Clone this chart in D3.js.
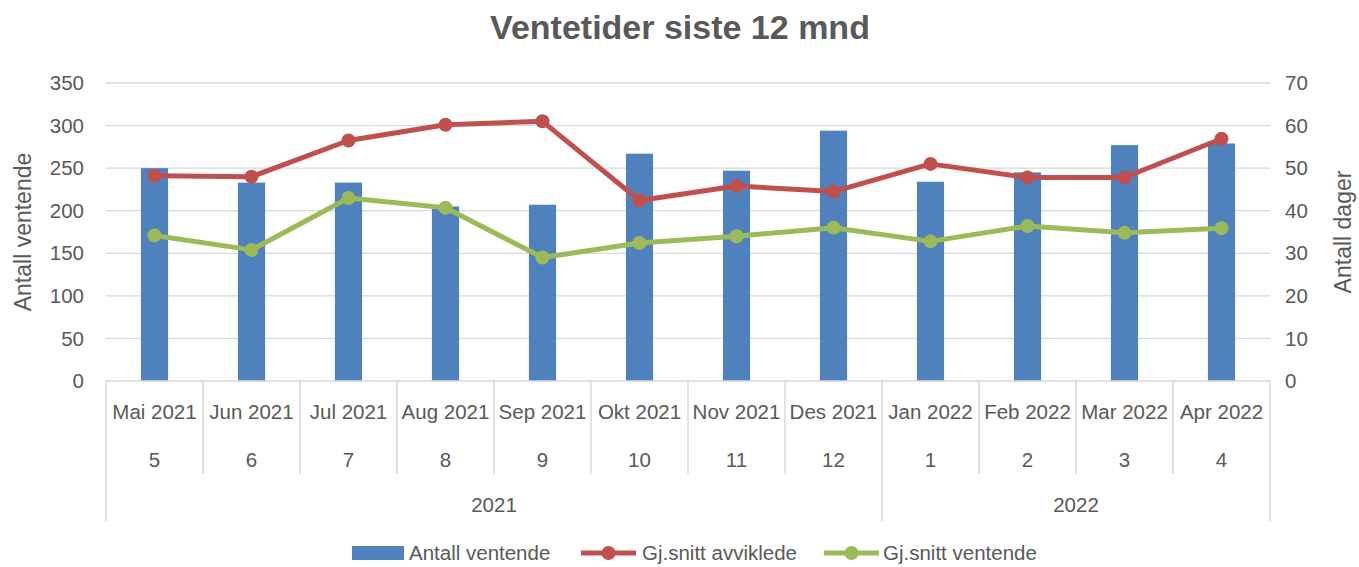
<!DOCTYPE html>
<html>
<head>
<meta charset="utf-8">
<script src="https://cdn.jsdelivr.net/npm/d3@7"></script>
<style>
  body { margin: 0; background: #fff; }
  text { font-family: 'Liberation Sans', Arial, sans-serif; fill: #595959; }
</style>
</head>
<body>
<div id="chart"></div>
<script>
const months = ['Mai 2021', 'Jun 2021', 'Jul 2021', 'Aug 2021', 'Sep 2021', 'Okt 2021',
  'Nov 2021', 'Des 2021', 'Jan 2022', 'Feb 2022', 'Mar 2022', 'Apr 2022']
const monthNums = ['5', '6', '7', '8', '9', '10', '11', '12', '1', '2', '3', '4']
const years = [{ year: '2021', from: 0, to: 8 }, { year: '2022', from: 8, to: 12 }]
const antallVentende = [250, 233, 233, 205, 207, 267, 247, 294, 234, 245, 277, 279]
const snittAvviklede = [48.2, 48.0, 56.5, 60.2, 61.0, 42.4, 45.8, 44.5, 51.0, 47.8, 47.8, 56.9]
const snittVentende = [34.2, 30.8, 43.0, 40.7, 29.0, 32.4, 34.0, 36.0, 32.8, 36.4, 34.8, 35.9]
const leftTicks = [0, 50, 100, 150, 200, 250, 300, 350]
const rightTicks = [0, 10, 20, 30, 40, 50, 60, 70]

const width = 1359
const height = 567
const margin = { top: 83, left: 106, right: 89, bottom: 186 }
const plotW = width - margin.left - margin.right
const plotH = height - margin.top - margin.bottom

const blue = '#4f81bd'
const red = '#c0504d'
const green = '#9bbb59'
const grid = '#d9d9d9'
const fs = 20.5

const svg = d3
  .select('#chart')
  .append('svg')
  .attr('width', width)
  .attr('height', height)

const g = svg
  .append('g')
  .attr('transform', 'translate(' + margin.left + ',' + margin.top + ')')

// scales
const x = d3.scaleBand().domain(d3.range(months.length)).range([0, plotW])
const yLeft = d3.scaleLinear().domain([0, 350]).range([plotH, 0])
const yRight = d3.scaleLinear().domain([0, 70]).range([plotH, 0])

// title
svg
  .append('text')
  .attr('x', 680)
  .attr('y', 39)
  .attr('text-anchor', 'middle')
  .attr('font-size', 34)
  .attr('font-weight', 'bold')
  .text('Ventetider siste 12 mnd')

// gridlines
g.selectAll('.grid')
  .data(leftTicks.slice(1))
  .enter()
  .append('line')
  .attr('class', 'grid')
  .attr('x1', 0)
  .attr('x2', plotW)
  .attr('y1', d => yLeft(d))
  .attr('y2', d => yLeft(d))
  .attr('stroke', grid)
  .attr('stroke-width', 1.3)

// left axis labels
g.selectAll('.ltick')
  .data(leftTicks)
  .enter()
  .append('text')
  .attr('class', 'ltick')
  .attr('x', -22)
  .attr('y', d => yLeft(d))
  .attr('dy', '0.35em')
  .attr('text-anchor', 'end')
  .attr('font-size', fs)
  .text(d => d)

// right axis labels
g.selectAll('.rtick')
  .data(rightTicks)
  .enter()
  .append('text')
  .attr('class', 'rtick')
  .attr('x', plotW + 15)
  .attr('y', d => yRight(d))
  .attr('dy', '0.35em')
  .attr('font-size', fs)
  .text(d => d)

// axis titles
svg
  .append('text')
  .attr('transform', 'translate(31,' + (margin.top + plotH / 2) + ') rotate(-90)')
  .attr('text-anchor', 'middle')
  .attr('font-size', 23)
  .text('Antall ventende')

svg
  .append('text')
  .attr('transform', 'translate(1351,' + (margin.top + plotH / 2) + ') rotate(-90)')
  .attr('text-anchor', 'middle')
  .attr('font-size', 23)
  .text('Antall dager')

// bars
const barW = x.bandwidth() * 0.28
g.selectAll('.bar')
  .data(antallVentende)
  .enter()
  .append('rect')
  .attr('class', 'bar')
  .attr('x', (d, i) => x(i) + x.bandwidth() / 2 - barW / 2)
  .attr('y', d => yLeft(d))
  .attr('width', barW)
  .attr('height', d => plotH - yLeft(d))
  .attr('fill', blue)

// category axis
g.append('line')
  .attr('x1', 0)
  .attr('x2', plotW)
  .attr('y1', plotH)
  .attr('y2', plotH)
  .attr('stroke', grid)
  .attr('stroke-width', 1.5)

const yearBounds = years.map(d => d.from).concat([months.length])
g.selectAll('.sep')
  .data(d3.range(months.length + 1))
  .enter()
  .append('line')
  .attr('class', 'sep')
  .attr('x1', i => (i < months.length ? x(i) : plotW))
  .attr('x2', i => (i < months.length ? x(i) : plotW))
  .attr('y1', plotH)
  .attr('y2', i => (yearBounds.includes(i) ? plotH + 140 : plotH + 93))
  .attr('stroke', grid)
  .attr('stroke-width', 1.5)

g.selectAll('.month')
  .data(months)
  .enter()
  .append('text')
  .attr('class', 'month')
  .attr('x', (d, i) => x(i) + x.bandwidth() / 2)
  .attr('y', plotH + 31)
  .attr('dy', '0.35em')
  .attr('text-anchor', 'middle')
  .attr('font-size', fs)
  .text(d => d)

g.selectAll('.mnum')
  .data(monthNums)
  .enter()
  .append('text')
  .attr('class', 'mnum')
  .attr('x', (d, i) => x(i) + x.bandwidth() / 2)
  .attr('y', plotH + 79)
  .attr('dy', '0.35em')
  .attr('text-anchor', 'middle')
  .attr('font-size', fs)
  .text(d => d)

g.selectAll('.year')
  .data(years)
  .enter()
  .append('text')
  .attr('class', 'year')
  .attr('x', d => (x(d.from) + (d.to < months.length ? x(d.to) : plotW)) / 2)
  .attr('y', plotH + 124)
  .attr('dy', '0.35em')
  .attr('text-anchor', 'middle')
  .attr('font-size', fs)
  .text(d => d.year)

// lines
const line = d3
  .line()
  .x((d, i) => x(i) + x.bandwidth() / 2)
  .y(d => yRight(d))

const series = [
  { name: 'Gj.snitt avviklede', values: snittAvviklede, color: red },
  { name: 'Gj.snitt ventende', values: snittVentende, color: green }
]

series.forEach(s => {
  g.append('path')
    .datum(s.values)
    .attr('d', line)
    .attr('fill', 'none')
    .attr('stroke', s.color)
    .attr('stroke-width', 5)
    .attr('stroke-linejoin', 'round')

  g.selectAll(null)
    .data(s.values)
    .enter()
    .append('circle')
    .attr('cx', (d, i) => x(i) + x.bandwidth() / 2)
    .attr('cy', d => yRight(d))
    .attr('r', 7)
    .attr('fill', s.color)
})

// legend
const legend = svg.append('g').attr('transform', 'translate(0,553)')

legend
  .append('rect')
  .attr('x', 352)
  .attr('y', -7)
  .attr('width', 52)
  .attr('height', 14)
  .attr('fill', blue)

legend
  .append('text')
  .attr('x', 409)
  .attr('dy', '0.35em')
  .attr('font-size', fs)
  .text('Antall ventende')

const legendLines = [
  { x: 581, tx: 642, s: series[0] },
  { x: 824, tx: 883, s: series[1] }
]

legendLines.forEach(l => {
  legend
    .append('line')
    .attr('x1', l.x)
    .attr('x2', l.x + 55)
    .attr('stroke', l.s.color)
    .attr('stroke-width', 5)
  legend
    .append('circle')
    .attr('cx', l.x + 27.5)
    .attr('r', 7)
    .attr('fill', l.s.color)
  legend
    .append('text')
    .attr('x', l.tx)
    .attr('dy', '0.35em')
    .attr('font-size', fs)
    .text(l.s.name)
})
</script>
</body>
</html>
